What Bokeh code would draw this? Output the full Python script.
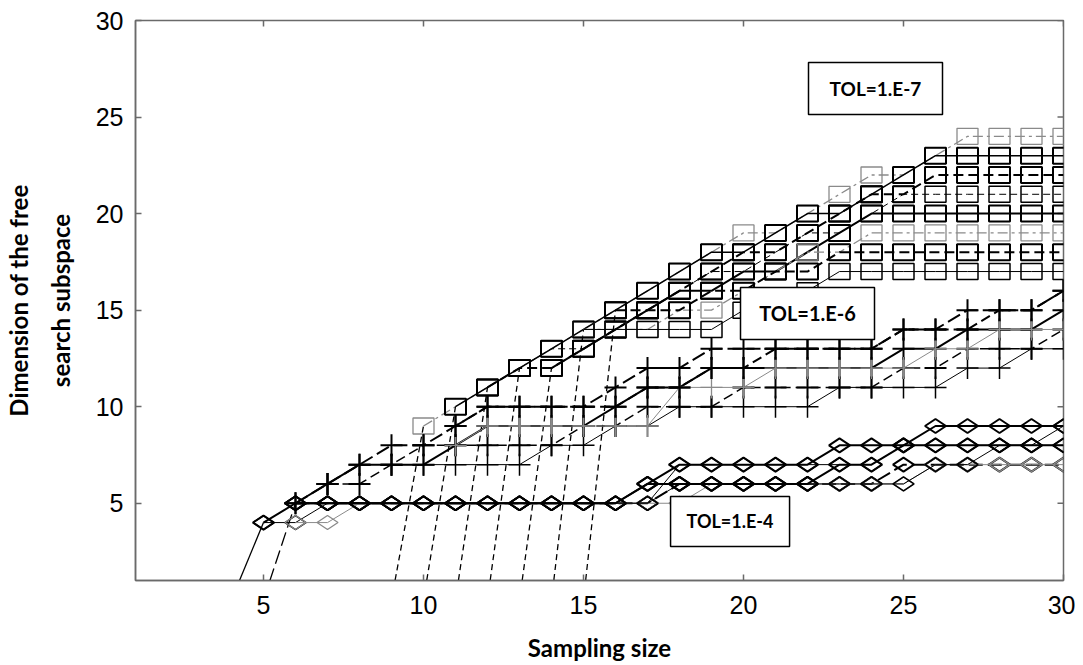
import math
from bokeh.plotting import figure
from bokeh.models import LinearAxis, FixedTicker, Range1d
from bokeh.core.properties import value
from bokeh.embed import file_html
from bokeh.resources import INLINE

N = float("nan")

# ---------------- data ----------------
sampling_size = list(range(1, 31))
axis_ticks = [5, 10, 15, 20, 25, 30]

# TOL = 1.E-4  (diamonds)
tol4_a = [N]*3 + [0, 4, 5] + [5]*10 + [6, 7] + [7]*4 + [8]*3 + [9]*5
tol4_b = [N]*4 + [0, 5] + [5]*11 + [6] + [6]*6 + [7] + [7]*5
tol4_c = [N]*4 + [4, 4, 5] + [5]*10 + [7] + [7]*6 + [8] + [8]*5
tol4_d = [N]*5 + [4, 4] + [5]*11 + [6]*7 + [7]*5
tol4_e = [N]*5 + [5] + [5]*10 + [6] + [6]*5 + [7, 7] + [8]*6
tol4_f = [N]*6 + [5] + [5]*10 + [6]*8 + [7, 7, 8, 8, 9]

# TOL = 1.E-6  (plus signs)
tol6_a = [N]*5 + [5, 6, 7, 8, 8, 9, 10, 10, 10, 10, 11, 12, 12] + [13]*6 + [14, 14, 15, 15, 15, 16]
tol6_b = [N]*5 + [5, 6, 7, 7, 7, 8, 9, 9, 9, 9, 10, 11, 11] + [12]*6 + [13, 13, 14, 14, 14, 15]
tol6_c = [N]*6 + [6, 6, 7, 8, 8, 8, 8, 8, 9, 9, 10, 10, 10] + [11]*5 + [12, 12, 13, 13, 13, 14]
tol6_d = [N]*8 + [7, 7, 7, 7, 7, 8, 8, 9, 9] + [10]*5 + [11]*4 + [12, 12, 13, 13]
tol6_e = [N]*10 + [8] + [9]*6 + [11]*3 + [12]*5 + [13, 13, 14, 14, 14]
tol6_f = [N]*10 + [9] + [10]*5 + [11, 11, 12, 12] + [13]*4 + [14]*3 + [15, 15, 16]

# TOL = 1.E-7  (squares)
tol7_a = [N]*8 + [0, 9, 10, 11, 12, 13, 14, 15, 16, 17, 18, 19, 19, 20, 21, 22, 22, 23] + [24]*4
tol7_b = [N]*9 + [0, 10, 11, 12, 13, 14, 15, 16, 17, 18, 18, 19, 20, 20, 21, 22, 23] + [23]*4
tol7_c = [N]*10 + [0, 11, 12, 12, 13, 14, 15, 16, 17, 18, 18, 19, 20, 21, 21, 22] + [22]*4
tol7_d = [N]*11 + [0, 12, 13, 13, 14, 15, 16, 17, 17, 18, 19, 19, 20, 21, 21] + [21]*4
tol7_e = [N]*12 + [0, 12, 13, 14, 15, 16, 16, 17, 17, 18, 19, 20, 20] + [20]*5
tol7_f = [N]*13 + [0, 14, 14, 14, 15, 15, 16, 17, 18, 18, 19] + [19]*6
tol7_g = [N]*14 + [0, 15, 15, 15, 16, 16, 17, 17, 18] + [18]*7
tol7_h = [N]*14 + [14] + [14]*4 + [15, 15, 16, 17] + [17]*7

box_labels = ["TOL=1.E-7", "TOL=1.E-6", "TOL=1.E-4"]
x_title = "Sampling size"
y_title_lines = ["Dimension of the free", "search subspace"]

# ---------------- figure ----------------
GRAY_AX = "#6a6a6a"
p = figure(width=1075, height=665, x_range=Range1d(1, 30), y_range=Range1d(1, 30),
           output_backend="svg", toolbar_location=None,
           min_border_left=135, min_border_right=12, min_border_top=20, min_border_bottom=85)
p.grid.visible = False
p.outline_line_color = GRAY_AX
p.outline_line_width = 1.5
p.background_fill_color = "white"
p.border_fill_color = "white"

for ax in (p.xaxis[0], p.yaxis[0]):
    ax.ticker = FixedTicker(ticks=axis_ticks)
    ax.major_tick_in = 6
    ax.major_tick_out = 0
    ax.minor_tick_line_color = None
    ax.axis_line_color = GRAY_AX
    ax.axis_line_width = 1.5
    ax.major_tick_line_color = GRAY_AX
    ax.major_tick_line_width = 1.5
    ax.major_label_text_font = "Liberation Sans"
    ax.major_label_text_font_size = "25px"
    ax.major_label_text_color = "black"
    ax.axis_label_text_font = "Lato"
    ax.axis_label_text_font_style = "bold"
    ax.axis_label_text_font_size = "24px"
    ax.axis_label_text_color = "black"
p.xaxis[0].major_label_standoff = 15
p.yaxis[0].major_label_standoff = 12
p.xaxis[0].axis_label = x_title
p.xaxis[0].axis_label_standoff = 16
p.yaxis[0].axis_label = y_title_lines[1]
p.yaxis[0].axis_label_standoff = 18

outer = LinearAxis(ticker=FixedTicker(ticks=[]), axis_label=y_title_lines[0],
                   axis_line_color=None, major_tick_out=0, major_tick_in=0,
                   minor_tick_out=0, minor_tick_in=0, major_label_standoff=0,
                   axis_label_standoff=10, axis_label_text_font="Lato",
                   axis_label_text_font_style="bold", axis_label_text_font_size="24px",
                   axis_label_text_color="black")
p.add_layout(outer, "left")

# inward ticks on the top and right edges (half of each dash is clipped by the frame)
p.scatter(axis_ticks, [30]*len(axis_ticks), marker="dash", angle=math.pi/2, size=12,
          line_color=GRAY_AX, line_width=1.5)
p.scatter([30]*len(axis_ticks), axis_ticks, marker="dash", size=12,
          line_color=GRAY_AX, line_width=1.5)


def draw(ys, kind, color, width, dash, lead_dash, mwidth):
    pts = [(x, y) for x, y in zip(sampling_size, ys) if not math.isnan(y)]
    if pts[0][1] == 0:
        lead, body = pts[:2], pts[1:]
        p.line([q[0] for q in lead], [q[1] for q in lead], line_color="black",
               line_width=1.3, line_dash=lead_dash)
    else:
        body = pts
    bx = [q[0] for q in body]
    by = [q[1] for q in body]
    p.line(bx, by, line_color=color, line_width=width, line_dash=dash)
    if kind == "square":
        p.rect(bx, by, width=21, height=16, width_units="screen", height_units="screen",
               fill_color=None, line_color=color, line_width=mwidth)
    elif kind == "diamond":
        p.scatter(bx, by, marker="diamond", size=21, angle=math.pi / 2,
                  fill_color=None, line_color=color, line_width=mwidth)
    else:
        p.scatter(bx, by, marker="cross", size=22, line_color=color, line_width=mwidth)


LG = "#8a8a8a"
# squares
draw(tol7_a, "square", LG, 1.3, "10 4 3 4", "6 4", 1.3)
draw(tol7_b, "square", "black", 1.5, "solid", "6 4", 2)
draw(tol7_c, "square", "black", 2, "10 5", "6 4", 2)
draw(tol7_d, "square", "black", 1, "7 4", "6 4", 1.5)
draw(tol7_e, "square", "black", 2, "solid", "6 4", 2)
draw(tol7_f, "square", LG, 1.3, "10 4 3 4", "6 4", 1.3)
draw(tol7_g, "square", "black", 2, "10 5", "6 4", 2)
draw(tol7_h, "square", "black", 1, "solid", "6 4", 1.5)
# plus signs
draw(tol6_a, "cross", "black", 2, "14 5", "14 5", 2)
draw(tol6_b, "cross", "black", 2, "solid", "solid", 2)
draw(tol6_c, "cross", "black", 1.5, "10 5", "10 5", 2)
draw(tol6_d, "cross", "black", 1, "solid", "solid", 1.5)
draw(tol6_e, "cross", LG, 1, "solid", "solid", 1.3)
draw(tol6_f, "cross", "black", 2, "10 5", "10 5", 2)
# diamonds
draw(tol4_a, "diamond", "black", 2, "solid", "solid", 2)
draw(tol4_b, "diamond", "black", 2, "14 5", "14 5", 2)
draw(tol4_c, "diamond", "black", 1, "solid", "solid", 1.5)
draw(tol4_d, "diamond", LG, 1, "solid", "solid", 1.3)
draw(tol4_e, "diamond", "black", 2, "solid", "solid", 2)
draw(tol4_f, "diamond", "black", 1, "solid", "solid", 1.5)

# tolerance boxes (annotation positions)
box_x = [24.125, 22.0, 19.58]
box_y = [26.48, 14.83, 4.06]
box_w = [134, 134, 119]
box_h = [52, 52, 50]
box_fs = ["19px", "20px", "18px"]
for lbl, bx, by, bw, bh, fs in zip(box_labels, box_x, box_y, box_w, box_h, box_fs):
    p.rect([bx], [by], width=bw, height=bh, width_units="screen", height_units="screen",
           fill_color="white", line_color="black", line_width=1.5)
    p.text([bx], [by], text=[lbl], text_align="center", text_baseline="middle",
           text_font=value("Lato"), text_font_style="bold", text_font_size=fs,
           text_color="black")

open("out.html", "w").write(file_html(p, INLINE))
